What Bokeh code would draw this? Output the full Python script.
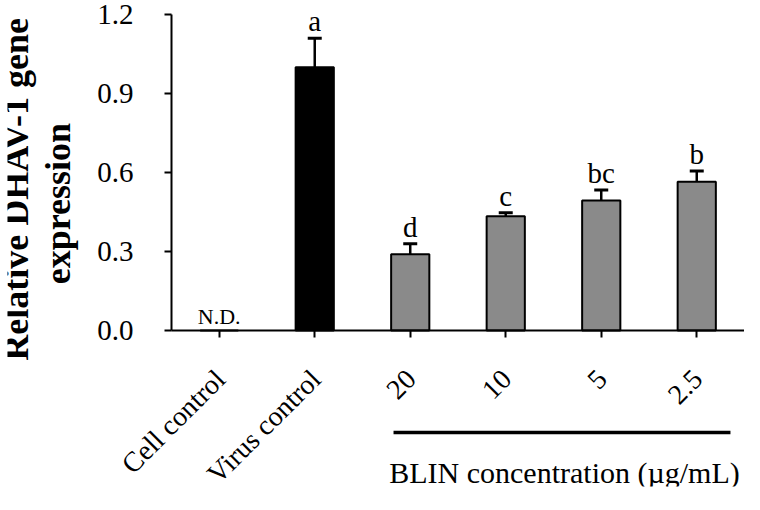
import math
from bokeh.plotting import figure
from bokeh.models import (ColumnDataSource, Range1d, FixedTicker, Whisker, TeeHead,
                          Label, Arrow)
from bokeh.core.properties import value
from bokeh.embed import file_html
from bokeh.resources import INLINE

# ---- data ----
categories = ["Cell control", "Virus control", "20", "10", "5", "2.5"]
expression = [0.0, 1.00, 0.29, 0.434, 0.494, 0.565]
errors = [0.0, 0.11, 0.04, 0.013, 0.04, 0.041]
letters = ["", "a", "d", "c", "bc", "b"]
bar_colors = ["#8a8a8a", "#000000", "#8a8a8a", "#8a8a8a", "#8a8a8a", "#8a8a8a"]
y_ticks = [0.0, 0.3, 0.6, 0.9, 1.2]
nd_label = "N.D."
group_title = "BLIN concentration (\u00b5g/mL)"
y_title_lines = ["Relative DHAV-1 gene", "expression"]

FONT = "Liberation Serif"

n = len(categories)
x_pos = [i + 0.5 for i in range(n)]          # category centres on the x scale
upper = [v + e for v, e in zip(expression, errors)]
src = ColumnDataSource(dict(x=x_pos, cat=categories, val=expression, upper=upper,
                            letter=letters, color=bar_colors, base=[0.0] * n))
err_src = ColumnDataSource(dict(x=x_pos[1:], val=expression[1:], upper=upper[1:]))
tick_src = ColumnDataSource(dict(y=y_ticks, label=[f"{t:.1f}" for t in y_ticks],
                                 x=[0.0] * len(y_ticks)))

# the frame covers the whole picture; the axes are drawn at x = 0 and y = 0
p = figure(width=744, height=494, x_range=Range1d(-1.717, n),
           y_range=Range1d(-0.592, 1.253), output_backend="svg", toolbar_location=None,
           min_border_left=7, min_border_right=0, min_border_top=0, min_border_bottom=8)
p.outline_line_color = None
p.grid.visible = False
p.background_fill_color = "white"

p.vbar(x="x", top="val", bottom="base", width=0.4, source=src, fill_color="color",
       line_color="black", line_width=2)

p.add_layout(Whisker(source=err_src, base="x", lower="val", upper="upper",
                     dimension="height", line_width=2.5, line_color="black",
                     upper_head=TeeHead(size=14, line_width=3, line_color="black"),
                     lower_head=None))

p.text(x="x", y="upper", text="letter", source=src, text_font=value(FONT),
       text_font_size="29px", text_align="center", text_baseline="alphabetic",
       y_offset=-17, text_color="black")

p.text(x=[x_pos[0]], y=[0], text=[nd_label], text_font=value(FONT),
       text_font_size="22px", text_align="center", text_baseline="alphabetic",
       y_offset=-14, text_color="black")

# rotated category labels under the zero line
p.text(x="x", y="base", text="cat", source=src, angle=math.pi / 4,
       text_font=value(FONT), text_font_size="28px", text_align="right",
       text_baseline="middle", x_offset=1, y_offset=44, text_color="black")

# y tick labels
p.text(x="x", y="y", text="label", source=tick_src, text_font=value(FONT),
       text_font_size="29px", text_align="right", text_baseline="middle",
       x_offset=-38, text_color="black")

# y title, two bold centred lines
p.text(x=[-1.623], y=[0.536], text=[y_title_lines[0]], angle=math.pi / 2,
       text_font=value(FONT), text_font_style="bold", text_font_size="36px",
       text_align="center", text_baseline="alphabetic", text_color="black")
p.text(x=[-1.183], y=[0.482], text=[y_title_lines[1]], angle=math.pi / 2,
       text_font=value(FONT), text_font_style="bold", text_font_size="36px",
       text_align="center", text_baseline="alphabetic", text_color="black")

# y axis at x = 0
ya = p.yaxis[0]
ya.fixed_location = 0
ya.bounds = (0, 1.2)
ya.ticker = FixedTicker(ticks=y_ticks)
ya.minor_tick_line_color = None
ya.major_tick_in = 0
ya.major_tick_out = 7
ya.major_tick_line_width = 2
ya.axis_line_width = 2
ya.major_label_standoff = 0
ya.major_label_text_font_size = "0px"
ya.major_label_text_color = None

# x axis at y = 0
xa = p.xaxis[0]
xa.fixed_location = 0
xa.bounds = (0, n)
xa.ticker = FixedTicker(ticks=x_pos)
xa.minor_tick_line_color = None
xa.major_tick_in = 0
xa.major_tick_out = 7
xa.major_tick_line_width = 2
xa.axis_line_width = 2
xa.major_label_standoff = 0
xa.major_label_text_font_size = "0px"
xa.major_label_text_color = None

# group bracket line and title below
p.add_layout(Arrow(end=None, x_start=2.325, y_start=-0.387, x_end=5.853, y_end=-0.387,
                   line_width=3.5, line_color="black"))
p.add_layout(Label(x=4.115, y=-0.539, text=group_title, text_align="center",
                   text_baseline="alphabetic", text_font=FONT, text_font_size="30px",
                   text_color="black"))

open("out.html", "w").write(file_html(p, INLINE))
